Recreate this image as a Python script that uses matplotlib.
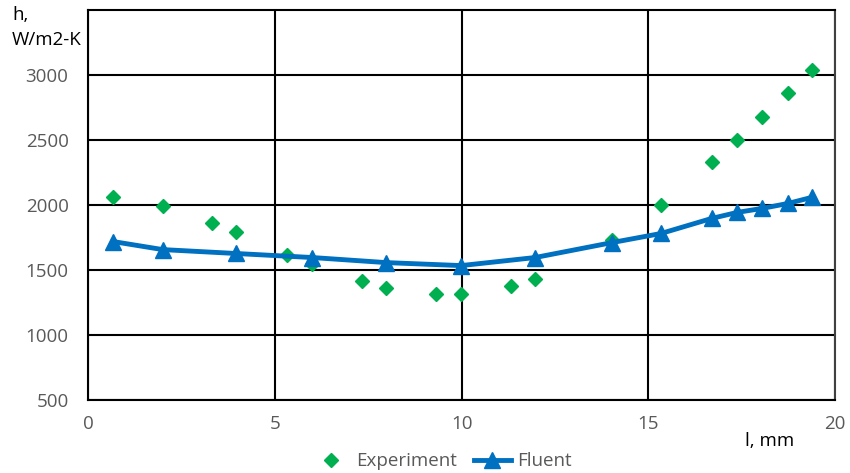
import matplotlib.pyplot as plt
from matplotlib.lines import Line2D

plt.rcParams['font.family'] = ['Open Sans', 'DejaVu Sans']

exp_x = [0.67, 2.0, 3.32, 3.96, 5.33, 6.0, 7.34, 7.98, 9.32, 9.99,
         11.33, 11.97, 14.03, 15.34, 16.7, 17.38, 18.05, 18.74, 19.38]
exp_h = [2059, 1989, 1858, 1789, 1619, 1549, 1418, 1364, 1318, 1318,
         1380, 1434, 1727, 1997, 2329, 2498, 2676, 2861, 3039]

fl_x = [0.67, 2.0, 3.96, 6.0, 7.98, 9.99, 11.97, 14.03, 15.34, 16.7,
        17.38, 18.05, 18.74, 19.38]
fl_h = [1719, 1657, 1627, 1596, 1557, 1534, 1596, 1711, 1781, 1897,
        1943, 1974, 2012, 2059]

green = '#00B050'
blue = '#0070C0'
grey = '#595959'
fs = 13.5

fig = plt.figure(figsize=(8.5, 4.73), dpi=100)
ax = fig.add_axes([0.1035, 0.1543, 0.879, 0.8246])

ax.plot(exp_x, exp_h, linestyle='none', marker='D', color=green,
        markersize=7, zorder=3)
ax.plot(fl_x, fl_h, color=blue, linewidth=3.5, marker='^', markersize=11,
        zorder=4)

ax.set_xlim(0, 20)
ax.set_ylim(500, 3500)
ax.set_xticks([0, 5, 10, 15, 20])
ax.set_yticks([500, 1000, 1500, 2000, 2500, 3000])
ax.grid(True, color='black', linewidth=1.5)
ax.set_axisbelow(True)
for s in ax.spines.values():
    s.set_color('black')
    s.set_linewidth(1.5)
ax.spines['right'].set_color('#404040')
ax.tick_params(length=0, labelsize=fs, labelcolor=grey)
ax.tick_params(axis='x', pad=11)
ax.tick_params(axis='y', pad=14)

fig.text(0.014, 0.968, 'h,', fontsize=fs, color='black', va='center')
fig.text(0.014, 0.915, 'W/m2-K', fontsize=fs, color='black', va='center')
fig.text(0.906, 0.068, 'l, mm', fontsize=fs, color='black', ha='center', va='center')

handles = [
    Line2D([], [], linestyle='none', marker='D', color=green, markersize=7),
    Line2D([], [], color=blue, linewidth=3.5, marker='^', markersize=11),
]
fig.legend(handles, ['Experiment', 'Fluent'], loc='center',
           bbox_to_anchor=(0.52, 0.025), ncol=2, frameon=False,
           fontsize=fs, labelcolor=grey, handlelength=2.0,
           columnspacing=0.9, handletextpad=0.3)

fig.savefig('out.png', dpi=100)
